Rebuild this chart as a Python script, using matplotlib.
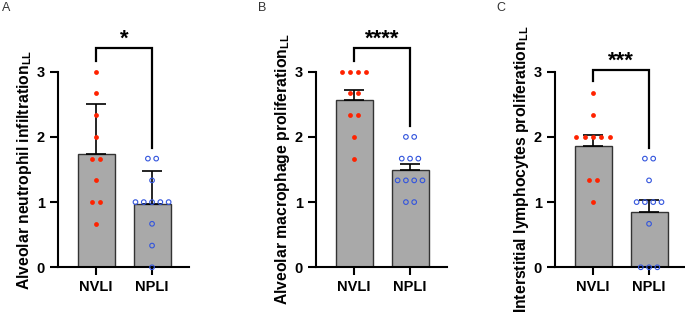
import numpy as np
import matplotlib.pyplot as plt

plt.rcParams['font.family'] = ['Liberation Sans', 'DejaVu Sans']
plt.rcParams['mathtext.fontset'] = 'custom'
plt.rcParams['mathtext.bf'] = 'Liberation Sans:bold'
plt.rcParams['mathtext.rm'] = 'Liberation Sans:bold'

# Data (scores)
groups = ["NVLI", "NPLI"]
panel_letters = ["A", "B", "C"]
ylabels = [
    r"Alveolar neutrophil infiltration$_{\mathbf{LL}}$",
    r"Alveolar macrophage proliferation$_{\mathbf{LL}}$",
    r"Interstitial lymphocytes proliferation$_{\mathbf{LL}}$",
]
stars = ["*", "****", "***"]
err_kind = ["sd", "sem", "sem"]

a_nvli = [3, 2.667, 2.333, 2, 1.667, 1.667, 1.333, 1, 1, 0.667]
a_npli = [1.667, 1.667, 1.333, 1, 1, 1, 1, 1, 0.667, 0.333, 0]
b_nvli = [3, 3, 3, 3, 2.667, 2.667, 2.333, 2.333, 2, 1.667]
b_npli = [2, 2, 1.667, 1.667, 1.667, 1.333, 1.333, 1.333, 1.333, 1, 1]
c_nvli = [2.667, 2.333, 2, 2, 2, 2, 2, 1.333, 1.333, 1]
c_npli = [1.667, 1.667, 1.333, 1, 1, 1, 1, 0.667, 0, 0, 0]

panels = [(a_nvli, a_npli), (b_nvli, b_npli), (c_nvli, c_npli)]

# bracket: left leg bottom, right leg bottom, top
brackets = [(3.16, 1.83, 3.36), (3.16, 2.16, 3.36), (2.85, 1.83, 3.02)]

W, H = 685, 312
fig = plt.figure(figsize=(W / 100, H / 100), dpi=100)
lefts = [58, 316, 555]

for i, (nvli, npli) in enumerate(panels):
    ax = fig.add_axes([lefts[i] / W, 44.7 / H, 131 / W, 195.6 / H])
    for j, (vals, col) in enumerate([(nvli, "#FF2200"), (npli, "#3355DD")]):
        vals = np.array(vals, dtype=float)
        m = vals.mean()
        e = vals.std(ddof=1)
        if err_kind[i] == "sem":
            e = e / np.sqrt(len(vals))
        ax.bar(j, m, width=0.66, color="#A9A9A9", edgecolor="#333333", linewidth=1, zorder=1)
        ax.errorbar(j, m, yerr=[[0], [e]], color="black", lw=1.2, capsize=7, capthick=1.2, zorder=2)
        # spread points that share a value
        xs = np.zeros(len(vals))
        for v in np.unique(vals):
            same = np.where(vals == v)[0]
            k = len(same)
            xs[same] = j + (np.arange(k) - (k - 1) / 2) * 0.148
        if j == 0:
            ax.scatter(xs, vals, s=12, color=col, zorder=3, clip_on=False, linewidths=0)
        else:
            ax.scatter(xs, vals, s=11, facecolors="none", edgecolors=col, linewidths=0.8,
                       zorder=3, clip_on=False)

    lb, rb, top = brackets[i]
    ax.plot([0, 0, 1, 1], [lb, top, top, rb], color="black", lw=1.6, clip_on=False,
            solid_joinstyle="miter")
    ax.text(0.5, top + 0.05, stars[i], ha="center", va="baseline", fontsize=16,
            fontweight="bold")

    ax.set_xlim(-0.68, 1.66)
    ax.set_ylim(0, 3)
    ax.set_yticks([0, 1, 2, 3])
    ax.set_xticks([0, 1])
    ax.set_xticklabels(groups, fontsize=10.5, fontweight="bold")
    for t in ax.get_yticklabels():
        t.set_fontweight("bold")
        t.set_fontsize(10.5)
    ax.set_ylabel(ylabels[i], fontsize=11.3, fontweight="bold", labelpad=2)
    for s in ["top", "right"]:
        ax.spines[s].set_visible(False)
    for s in ["left", "bottom"]:
        ax.spines[s].set_linewidth(1.5)
    ax.tick_params(direction="out", length=6, width=1.5)
    ax.patch.set_alpha(0)

letter_x = [2, 258, 496]
for i, lt in enumerate(panel_letters):
    fig.text(letter_x[i] / W, 1 - 2 / H, lt, ha="left", va="top", fontsize=9, color="#333333")

fig.savefig("out.png", dpi=100)
